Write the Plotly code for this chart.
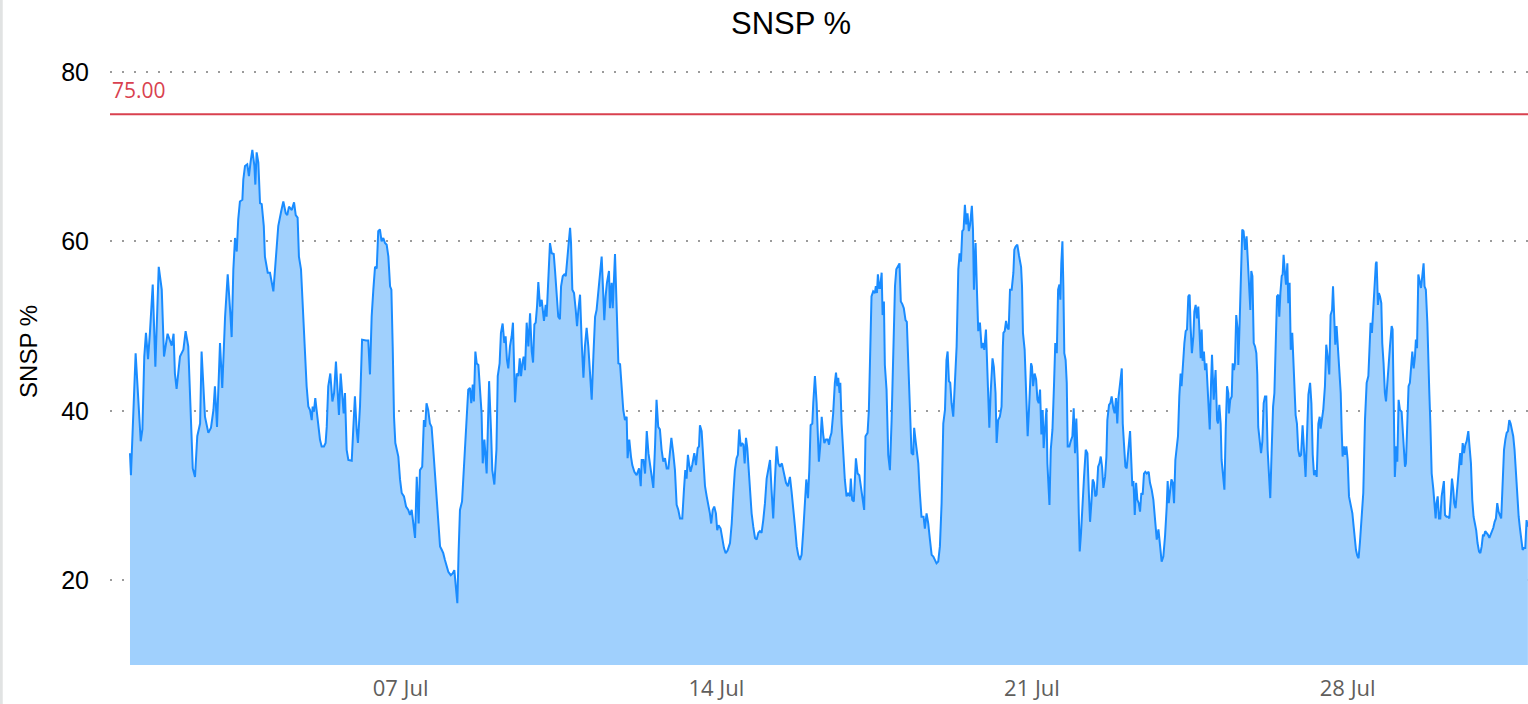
import pandas as pd
import plotly.graph_objects as go

# ---------------- data (hours since 01 Jul 00:00, SNSP %) ----------------
start_date = "2024-07-01"

hours_w1 = [0.0, 0.5, 3.0, 4.4, 5.7, 6.6, 7.6, 8.5, 9.6, 10.6,
            12.1, 13.5, 15.3, 16.9, 18.1, 20.0, 22.2, 23.2, 23.9, 24.8,
            26.6, 28.4, 29.6, 31.0, 32.1, 33.4, 34.6, 35.8, 37.3, 38.1,
            39.9, 41.7, 43.1, 44.4, 45.2, 46.3, 47.9, 49.1, 50.6, 52.0,
            53.4, 54.1, 55.0, 55.9, 56.8, 57.6, 58.5, 59.8, 60.3, 61.2,
            62.4, 63.3, 64.2, 65.1, 66.2, 66.7, 67.4, 68.3, 69.2, 70.1,
            71.2, 71.8, 73.3, 74.5, 76.3, 77.5, 78.9, 80.4, 81.6, 82.9,
            83.7, 84.6, 86.1, 87.3, 88.2, 89.2, 89.9, 91.0, 92.2, 93.1]
snsp_w1 = [35.0, 32.4, 46.8, 40.5, 36.4, 37.8, 46.4, 49.2, 46.1, 49.2,
           54.9, 45.2, 57.0, 54.3, 46.4, 49.1, 47.7, 49.1, 44.4, 42.6,
           46.4, 47.2, 49.4, 47.6, 40.9, 33.2, 32.2, 37.0, 38.5, 47.0,
           39.3, 37.4, 38.0, 40.1, 42.9, 38.1, 48.0, 42.7, 51.1, 56.1,
           51.5, 48.7, 56.7, 60.4, 58.8, 62.6, 64.7, 64.9, 67.3, 68.9,
           69.1, 67.7, 69.4, 70.8, 68.9, 66.7, 70.5, 69.3, 64.5, 64.4,
           61.8, 58.2, 56.3, 56.3, 54.1, 57.8, 61.8, 63.5, 64.7, 63.3,
           63.1, 64.1, 63.7, 64.6, 63.1, 62.8, 58.2, 56.7, 51.1, 45.6]

hours_w2 = [94.0, 94.9, 95.8, 96.7, 97.2, 97.9, 98.6, 99.3, 100.2, 101.1,
            102.0, 103.2, 104.1, 104.7, 105.5, 106.6, 107.7, 108.6, 109.6, 110.3,
            111.2, 112.1, 113.0, 113.7, 114.4, 115.3, 116.2, 118.0, 118.8, 119.7,
            120.6, 121.3, 122.4, 123.5, 125.6, 126.8, 127.7, 128.6, 129.5, 130.4,
            131.3, 132.1, 133.0, 133.9, 134.8, 135.7, 136.6, 137.5, 138.4, 139.1,
            139.8, 140.5, 141.2, 141.9, 142.8, 143.7, 144.6, 145.8, 146.9, 148.1,
            149.0, 149.9, 150.8, 151.7, 152.6, 153.6, 154.3, 155.5, 156.4, 157.1,
            157.8, 158.7, 159.6, 160.5, 161.4, 162.3, 163.2, 164.1, 165.0, 165.9,
            166.7, 167.6, 168.5, 169.4, 170.7, 171.7, 172.6, 173.3, 174.2, 174.9,
            175.6, 176.7, 177.4, 178.3, 179.2, 180.0, 180.9, 181.6, 182.4, 183.0,
            183.8]
snsp_w2 = [42.9, 40.5, 40.1, 38.9, 40.5, 39.9, 41.5, 40.1, 38.5, 36.6,
           35.8, 35.8, 36.2, 38.1, 42.9, 44.4, 41.1, 42.1, 45.8, 42.5,
           39.5, 44.4, 42.1, 39.7, 42.1, 35.4, 34.2, 34.1, 37.8, 41.7,
           37.8, 36.2, 40.5, 48.4, 48.3, 48.3, 44.3, 51.1, 54.3, 57.0,
           56.8, 61.2, 61.4, 60.0, 60.4, 59.8, 59.6, 58.2, 54.7, 54.3,
           47.6, 39.3, 36.2, 35.4, 34.6, 31.9, 30.3, 29.9, 28.7, 28.3,
           27.7, 28.3, 26.9, 25.0, 32.2, 26.7, 33.0, 33.4, 38.9, 38.1,
           40.9, 40.1, 38.5, 38.1, 35.4, 32.2, 29.9, 26.3, 24.0, 23.6,
           23.2, 22.4, 21.6, 21.0, 20.6, 20.8, 21.2, 19.6, 17.3, 23.6,
           28.3, 29.3, 31.9, 35.8, 39.3, 42.5, 42.7, 40.9, 43.1, 41.1,
           47.0]

hours_w3 = [184.5, 185.4, 186.3, 187.1, 187.7, 188.6, 189.8, 191.1, 192.1, 192.8,
            193.9, 195.0, 195.7, 196.7, 197.4, 198.3, 199.2, 199.9, 200.6, 201.3,
            202.2, 203.1, 203.8, 204.9, 205.8, 206.7, 207.4, 208.1, 208.8, 209.5,
            210.2, 211.1, 212.0, 212.9, 213.8, 214.5, 215.2, 215.9, 216.6, 217.3,
            218.2, 219.1, 220.3, 221.2, 221.7, 222.6, 223.5, 224.4, 225.5, 226.2,
            227.1, 227.9, 228.8, 229.4, 230.3, 231.1, 231.9, 232.6, 233.3, 234.2,
            234.7, 235.4, 236.3, 237.2, 237.9, 238.6, 239.5, 240.4, 241.3, 242.1,
            243.0, 243.9, 244.8, 245.7, 246.6, 247.5, 248.3, 249.2, 250.1, 251.0,
            251.9, 252.4, 253.1, 253.8, 254.9, 255.4, 256.3, 256.9, 258.1, 259.0,
            259.9, 260.8, 261.7, 262.5, 263.4, 264.3, 264.8, 265.7, 266.6, 267.3,
            268.4, 269.6, 270.9, 271.8, 272.3, 273.2, 274.1, 275.0, 275.9, 276.7,
            277.6]
snsp_w3 = [45.6, 45.4, 42.9, 39.7, 33.8, 36.6, 32.6, 43.5, 37.8, 33.0,
           31.3, 35.4, 44.1, 45.6, 49.2, 50.3, 48.0, 48.8, 46.0, 45.0,
           47.6, 48.8, 50.4, 41.0, 44.4, 44.1, 46.2, 44.1, 45.6, 46.4,
           44.8, 50.4, 47.6, 51.5, 47.0, 45.7, 50.2, 50.4, 52.3, 55.2,
           52.3, 53.1, 50.6, 52.5, 51.1, 55.9, 59.8, 58.6, 58.5, 56.5,
           53.5, 51.1, 50.8, 54.7, 55.9, 56.1, 55.9, 58.0, 59.4, 61.6,
           59.8, 54.3, 53.9, 51.9, 50.0, 51.9, 53.7, 48.0, 43.9, 47.6,
           49.8, 47.6, 44.9, 41.3, 46.5, 51.1, 51.9, 54.3, 56.7, 58.2,
           53.5, 50.7, 53.5, 55.1, 56.5, 52.1, 55.1, 52.1, 58.5, 53.1,
           45.6, 45.5, 42.1, 40.1, 38.9, 39.3, 34.4, 36.6, 34.6, 33.6,
           32.8, 32.4, 33.2, 31.1, 34.2, 34.2, 32.6, 37.6, 35.0, 33.8,
           31.9]

hours_w4 = [278.5, 279.4, 280.2, 281.1, 282.0, 282.9, 283.8, 284.7, 285.6, 286.5,
            287.3, 288.1, 289.1, 290.0, 290.9, 291.8, 292.7, 293.9, 294.8, 295.5,
            296.2, 296.9, 297.6, 298.3, 299.2, 300.3, 301.2, 302.1, 302.8, 303.3,
            304.2, 305.1, 306.0, 306.9, 307.7, 308.6, 309.3, 310.1, 310.9, 311.8,
            312.5, 313.2, 314.3, 315.0, 316.1, 317.0, 318.0, 319.3, 320.2, 321.1,
            321.9, 322.8, 323.5, 324.2, 325.0, 325.7, 326.4, 327.1, 327.8, 328.5,
            329.2, 329.9, 330.8, 331.7, 332.6, 333.5, 334.4, 335.2, 336.1, 337.0,
            337.9, 338.8, 339.7, 340.6, 341.4, 342.3, 343.2, 344.1, 345.0, 345.9,
            346.9, 348.0, 349.1, 350.1, 351.2, 352.1, 353.0, 353.9, 354.8, 355.6,
            356.5, 357.4, 358.3, 359.2, 359.9, 360.8, 361.5, 362.2, 363.1, 363.6,
            364.5, 365.4, 365.9, 366.6, 367.3, 368.1, 368.9, 369.5, 370.4, 371.3,
            372.0]
snsp_w4 = [30.9, 35.8, 41.3, 38.1, 37.8, 35.4, 34.0, 34.4, 33.2, 33.2,
           35.4, 36.8, 35.0, 33.0, 28.9, 28.3, 27.3, 27.3, 30.7, 33.0,
           32.0, 34.8, 33.6, 32.8, 33.6, 35.0, 33.6, 35.6, 35.8, 38.3,
           37.6, 33.8, 31.1, 29.9, 29.1, 27.9, 26.7, 28.3, 28.7, 27.9,
           25.9, 26.5, 26.1, 25.2, 23.8, 23.2, 23.5, 24.4, 26.7, 30.3,
           33.0, 34.4, 34.8, 37.8, 35.8, 36.2, 36.0, 33.8, 36.8, 35.6,
           33.0, 29.9, 27.9, 26.3, 25.0, 24.8, 25.6, 25.8, 25.6, 27.1,
           29.1, 32.0, 33.4, 34.2, 30.7, 27.3, 31.9, 35.8, 33.8, 33.4,
           33.8, 32.8, 31.5, 31.1, 32.2, 30.4, 28.6, 26.3, 24.0, 23.0,
           22.4, 23.0, 25.9, 29.1, 31.9, 29.7, 33.0, 38.3, 38.5, 40.9,
           44.1, 40.9, 38.5, 34.0, 35.8, 39.3, 37.2, 36.2, 36.6, 36.6,
           36.0]

hours_w5 = [372.5, 373.3, 374.2, 375.1, 375.7, 376.4, 376.9, 377.6, 378.0, 378.7,
            379.6, 380.4, 381.3, 382.2, 383.1, 383.6, 384.3, 385.2, 386.3, 387.2,
            388.1, 388.6, 389.3, 390.2, 390.7, 391.4, 392.5, 393.2, 393.9, 394.6,
            395.5, 396.4, 396.9, 397.5, 398.0, 398.7, 399.2, 400.0, 400.5, 401.2,
            401.7, 402.6, 403.5, 404.4, 405.3, 406.2, 407.1, 407.8, 408.5, 409.5,
            410.2, 411.0, 411.8, 412.7, 413.4, 414.2, 415.0, 415.9, 416.8, 417.3,
            418.1, 418.8, 419.5, 420.2, 421.2, 422.3, 423.0, 423.9, 424.8, 425.7,
            426.6, 427.5, 428.3, 429.2, 430.1, 431.0, 431.9, 432.8, 433.7, 434.5,
            435.1, 435.8, 436.5, 437.2, 438.1, 439.0, 439.9, 440.8, 441.5, 442.2,
            442.9, 443.6, 444.3, 445.0, 445.7, 446.4, 447.1, 448.0, 448.6, 449.1,
            450.0, 450.7, 451.4, 452.3, 453.2, 454.1, 454.6, 455.5, 456.2, 456.7,
            457.3, 458.0, 459.0, 459.7, 460.6, 461.2, 462.0, 462.9, 463.8, 464.5]
snsp_w5 = [36.8, 37.4, 39.7, 43.3, 44.5, 42.9, 43.9, 42.1, 43.3, 38.5,
           34.2, 31.9, 29.9, 30.3, 29.9, 32.0, 29.5, 29.3, 34.4, 32.6,
           32.4, 31.5, 30.3, 28.5, 28.3, 37.0, 37.4, 40.1, 45.6, 53.5,
           54.1, 53.9, 54.7, 53.9, 56.1, 54.5, 54.5, 56.3, 51.3, 52.9,
           45.4, 42.5, 34.8, 33.0, 38.9, 48.0, 54.7, 56.7, 57.0, 57.4,
           52.9, 52.6, 52.1, 50.7, 50.5, 44.8, 38.9, 35.0, 34.8, 38.0,
           36.4, 34.6, 33.8, 30.7, 27.5, 27.5, 26.1, 27.9, 26.7, 24.8,
           23.0, 22.8, 22.4, 22.0, 22.2, 24.0, 29.1, 38.5, 40.1, 46.0,
           47.0, 43.5, 43.3, 40.9, 39.3, 44.1, 47.6, 56.7, 58.6, 57.6,
           61.2, 61.4, 64.3, 62.0, 63.3, 61.2, 62.0, 64.2, 61.4, 54.3,
           59.8, 54.3, 49.4, 50.4, 47.4, 48.0, 47.2, 49.6, 44.8, 40.9,
           38.0, 42.1, 46.2, 45.2, 42.1, 36.2, 38.9, 39.3, 40.5, 47.6]

hours_w6 = [464.8, 465.5, 466.2, 466.9, 467.6, 468.3, 469.2, 470.1, 470.6, 471.3,
            472.2, 473.1, 474.2, 474.7, 475.2, 476.1, 476.8, 477.7, 478.4, 479.5,
            480.0, 480.6, 481.4, 482.2, 482.9, 483.6, 484.3, 485.0, 485.7, 486.2,
            486.9, 487.7, 488.2, 489.3, 490.0, 490.9, 491.7, 492.4, 493.2, 493.9,
            494.6, 495.1, 495.6, 496.2, 496.7, 497.2, 497.9, 498.5, 499.0, 499.9,
            500.6, 501.5, 502.2, 502.9, 503.6, 504.3, 504.9, 505.4, 506.1, 506.8,
            507.7, 508.6, 509.5, 510.2, 510.9, 511.6, 512.3, 513.0, 513.7, 514.4,
            515.2, 515.9, 516.6, 517.3, 518.0, 518.9, 519.6, 520.1, 521.0, 521.7,
            522.4, 523.3, 524.0, 524.7, 525.4, 526.0, 526.9, 527.8, 528.3, 529.0,
            529.7, 530.4, 531.1, 532.2, 532.9, 533.4, 534.0, 534.7, 535.4, 536.1,
            536.8, 537.5, 538.2, 538.9, 539.6, 540.3, 541.1, 542.1, 542.8, 543.7,
            544.6, 545.5, 546.4, 547.3, 548.2, 549.0, 549.9, 550.8, 551.7, 552.2,
            552.8, 553.5, 554.2, 554.9, 555.6, 556.3, 557.0, 557.7]
snsp_w6 = [49.2, 49.4, 50.6, 49.8, 49.6, 54.3, 54.3, 56.3, 59.0, 59.4,
           59.6, 58.3, 57.0, 54.7, 49.2, 47.2, 41.7, 37.0, 40.1, 45.6,
           45.2, 42.9, 44.4, 43.7, 41.3, 40.9, 42.5, 37.2, 40.1, 35.6,
           37.8, 40.3, 33.8, 28.9, 35.4, 37.8, 42.9, 48.0, 46.8, 54.3,
           54.9, 53.1, 57.4, 60.0, 54.7, 46.8, 46.0, 43.3, 35.8, 35.8,
           36.4, 37.0, 40.3, 35.0, 39.1, 34.6, 27.9, 23.4, 25.6, 29.1,
           32.2, 35.4, 35.0, 30.7, 26.9, 29.1, 31.9, 31.5, 29.9, 30.1,
           33.4, 33.8, 34.6, 33.4, 30.9, 32.2, 34.6, 38.9, 40.7, 40.9,
           41.7, 40.3, 39.7, 41.5, 38.5, 41.5, 43.1, 45.0, 38.5, 35.8,
           33.4, 33.2, 35.0, 37.6, 33.8, 31.1, 31.7, 27.7, 31.5, 29.5,
           29.1, 28.1, 30.3, 30.1, 32.6, 32.8, 32.6, 32.8, 31.5, 30.7,
           29.5, 26.7, 24.8, 26.0, 23.6, 22.2, 22.8, 25.2, 28.7, 31.7,
           29.1, 30.3, 31.9, 31.5, 29.1, 34.2, 35.4, 37.0]

hours_w7 = [558.4, 559.1, 559.6, 560.4, 561.1, 561.8, 562.5, 563.2, 563.9, 564.4,
            565.1, 565.9, 566.4, 567.1, 567.8, 568.5, 569.2, 569.8, 570.3, 570.8,
            571.5, 572.1, 572.8, 573.5, 574.0, 574.6, 575.3, 575.8, 576.7, 577.7,
            578.5, 579.0, 579.7, 580.4, 580.9, 581.6, 582.4, 583.1, 583.8, 584.5,
            584.8, 585.5, 586.3, 586.8, 587.5, 588.0, 588.7, 589.5, 589.8, 590.5,
            591.2, 591.9, 592.6, 593.4, 594.2, 594.8, 595.5, 596.2, 596.7, 597.3,
            598.0, 598.7, 599.4, 599.9, 600.4, 601.2, 601.9, 602.6, 603.3, 604.0,
            604.7, 605.4, 606.1, 606.8, 607.5, 608.3, 609.0, 609.7, 610.4, 611.1,
            611.6, 612.2, 612.9, 613.4, 613.9, 614.6, 615.2, 615.9, 616.4, 617.1,
            617.7, 618.5, 619.1, 619.8, 620.3, 621.0, 621.7, 622.4, 623.2, 624.0,
            624.8, 625.6, 626.2, 627.1, 628.0, 628.7, 629.4, 630.1, 630.8, 631.5,
            632.4, 633.1, 633.6, 634.3, 635.0, 635.9, 636.6, 637.3, 638.2, 638.9,
            639.7, 640.2, 640.9, 641.4, 642.1, 642.8, 643.6, 644.3, 644.8, 645.3,
            646.0, 646.6, 647.3, 648.0, 648.7, 649.6, 650.5, 651.2]
snsp_w7 = [41.7, 44.4, 42.9, 46.4, 48.0, 49.4, 49.6, 53.5, 53.7, 50.0,
           46.8, 48.8, 51.7, 52.5, 50.9, 52.3, 48.8, 46.2, 49.6, 45.9,
           47.0, 44.8, 45.6, 42.5, 41.7, 37.8, 43.3, 46.6, 41.3, 44.8,
           38.9, 38.5, 40.7, 38.5, 34.2, 32.8, 30.7, 37.8, 42.9, 42.1,
           39.7, 41.3, 41.7, 45.6, 44.8, 45.6, 51.3, 49.4, 45.4, 50.4,
           56.3, 61.4, 61.2, 59.0, 60.6, 57.4, 53.9, 51.9, 56.5, 55.9,
           48.0, 47.6, 46.8, 44.3, 38.1, 36.6, 35.0, 36.4, 40.9, 41.7,
           41.7, 35.4, 32.0, 29.7, 35.0, 40.5, 42.1, 47.2, 53.5, 53.7,
           51.1, 53.9, 55.9, 56.1, 58.4, 56.3, 54.9, 57.4, 52.7, 55.1,
           47.2, 49.2, 45.6, 43.3, 39.5, 38.5, 35.4, 34.6, 34.8, 38.3,
           35.4, 32.2, 36.1, 41.9, 43.3, 40.9, 34.8, 32.4, 33.0, 32.2,
           38.5, 39.3, 37.9, 39.1, 40.1, 42.9, 47.8, 46.5, 44.3, 51.3,
           51.9, 54.7, 51.1, 47.8, 50.0, 47.6, 45.2, 42.1, 37.8, 34.6,
           35.8, 34.8, 35.8, 34.2, 29.9, 28.7, 27.9, 26.3]

hours_w8 = [651.7, 652.4, 653.1, 653.8, 654.5, 655.4, 656.3, 657.2, 658.1, 659.0,
            659.5, 660.2, 660.9, 661.6, 662.3, 663.0, 663.4, 664.1, 664.6, 665.2,
            665.9, 666.4, 667.1, 667.8, 668.4, 669.1, 669.8, 670.5, 671.4, 671.9,
            672.4, 673.1, 673.9, 674.4, 675.1, 675.8, 676.7, 677.6, 678.5, 679.0,
            679.7, 680.4, 681.1, 681.8, 682.4, 683.1, 683.8, 684.3, 684.9, 685.6,
            686.3, 687.0, 687.7, 688.4, 688.9, 689.6, 690.4, 690.9, 691.4, 692.0,
            692.7, 693.6, 694.1, 694.8, 695.3, 695.9, 696.6, 697.3, 698.0, 698.5,
            699.2, 699.8, 700.6, 701.4, 702.1, 702.8, 703.5, 704.2, 704.7, 705.4,
            706.0, 706.7, 707.4, 707.9, 708.5, 709.2, 709.9, 710.6, 711.3, 712.2,
            712.7, 713.6, 714.3, 715.0, 715.7, 716.4, 717.1, 717.9, 718.6, 719.3,
            720.0, 720.5, 721.2, 721.9, 722.6, 723.4, 724.1, 724.8, 725.5, 726.2,
            726.9, 727.6, 728.3, 729.0, 729.7, 730.4, 731.2, 731.9, 732.6, 733.3,
            734.0, 734.7, 735.4, 736.1, 736.8, 737.5, 738.3, 739.0, 739.7, 740.4,
            741.1, 741.8, 742.5, 743.2, 743.9]
snsp_w8 = [24.8, 23.6, 22.9, 22.6, 24.4, 27.9, 30.3, 38.9, 43.3, 44.1,
           48.0, 50.4, 49.2, 52.3, 55.1, 57.4, 57.6, 52.5, 53.9, 53.5,
           52.7, 48.0, 45.6, 42.1, 41.1, 44.1, 45.4, 47.6, 50.0, 49.6,
           40.1, 32.2, 35.8, 34.0, 41.3, 40.1, 39.9, 37.0, 33.4, 33.8,
           38.5, 42.9, 43.3, 45.6, 47.0, 45.0, 46.4, 48.4, 47.4, 56.1,
           55.1, 54.5, 55.9, 57.4, 54.7, 54.3, 50.4, 44.1, 42.5, 38.5,
           32.6, 30.7, 29.1, 27.3, 29.1, 29.9, 27.3, 27.3, 29.9, 30.7,
           31.7, 27.7, 27.5, 27.5, 27.3, 29.5, 32.0, 30.7, 29.1, 28.5,
           30.7, 31.9, 33.8, 35.0, 33.6, 36.2, 35.0, 36.0, 36.4, 37.6,
           36.2, 33.8, 29.5, 27.5, 26.7, 25.9, 24.4, 23.4, 23.2, 24.0,
           25.4, 25.2, 25.8, 25.6, 25.4, 25.0, 25.4, 26.0, 26.2, 26.9,
           27.3, 29.1, 28.1, 27.7, 27.3, 31.1, 35.4, 36.6, 37.4, 37.6,
           38.9, 38.5, 37.9, 37.0, 35.4, 32.6, 29.9, 27.5, 26.1, 24.4,
           23.6, 23.8, 23.8, 27.1, 26.3]

threshold = 75.0
threshold_label = "75.00"
y_ticks = [20, 40, 60, 80]
x_tick_dates = ["2024-07-07", "2024-07-14", "2024-07-21", "2024-07-28"]
chart_title = "SNSP %"
y_title = "SNSP %"

# ---------------- assemble ----------------
hours, snsp = [], []
for h_seg, v_seg in [(hours_w1, snsp_w1), (hours_w2, snsp_w2), (hours_w3, snsp_w3),
                     (hours_w4, snsp_w4), (hours_w5, snsp_w5), (hours_w6, snsp_w6),
                     (hours_w7, snsp_w7), (hours_w8, snsp_w8)]:
    n = min(len(h_seg), len(v_seg))
    hours.extend(h_seg[:n])
    snsp.extend(v_seg[:n])

base = pd.Timestamp(start_date)
times = base + pd.to_timedelta(hours, unit="h")

x_start = base - pd.Timedelta(hours=10.64)
x_end = base + pd.Timedelta(hours=743.96)

RED = "#d9414f"

fig = go.Figure()
fig.add_trace(go.Scatter(
    x=times, y=snsp, mode="lines",
    line=dict(color="#1a8cff", width=2),
    fill="tozeroy", fillcolor="#a0d0fd",
    hoverinfo="skip", showlegend=False,
))

fig.add_shape(type="line", xref="paper", x0=0, x1=1, yref="y", y0=threshold, y1=threshold,
              line=dict(color=RED, width=2))
fig.add_annotation(xref="paper", x=0, xanchor="left", yref="y", y=threshold, yanchor="bottom",
                   yshift=8, text=threshold_label, showarrow=False,
                   font=dict(family="Open Sans", size=21, color=RED))
# thin grey frame line at the very left of the visual
fig.add_shape(type="line", xref="paper", x0=-0.0767, x1=-0.0767, yref="paper", y0=-0.07, y1=1.07,
              line=dict(color="#e1e3e3", width=3))

fig.update_layout(
    width=1528, height=704,
    margin=dict(l=110, r=0, t=38, b=39),
    paper_bgcolor="white", plot_bgcolor="white",
    title=dict(text=chart_title, x=791 / 1528, xref="container", xanchor="center",
               y=1 - 23 / 704, yref="container", yanchor="middle",
               font=dict(family="Liberation Sans", size=31, color="black")),
    showlegend=False,
    hovermode=False,
)
fig.update_xaxes(
    type="date", range=[x_start, x_end], automargin=False,
    tickvals=pd.to_datetime(x_tick_dates), tickformat="%d %b",
    showgrid=False, zeroline=False, showline=False,
    ticks="outside", ticklen=4, tickcolor="rgba(0,0,0,0)",
    tickfont=dict(family="Open Sans", size=22, color="#605e5c"),
)
fig.update_yaxes(
    range=[10, 84], tickvals=y_ticks, automargin=False,
    showgrid=True, gridcolor="#9b9b9b", gridwidth=2, griddash="2px,10px",
    zeroline=False, showline=False,
    ticks="outside", ticklen=15, tickcolor="rgba(0,0,0,0)",
    tickfont=dict(family="Liberation Sans", size=25, color="black"),
    title=dict(text=y_title, standoff=16, font=dict(family="Liberation Sans", size=24, color="black")),
)

fig.write_html("out.html", config={"displayModeBar": False},
               post_script="document.body.style.margin='0';")
